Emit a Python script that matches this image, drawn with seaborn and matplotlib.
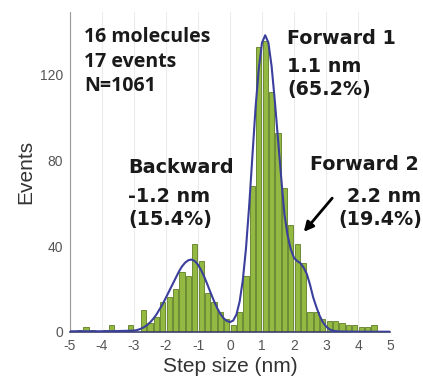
import numpy as np
import matplotlib.pyplot as plt
import seaborn as sns

# histogram: 0.2 nm bins from -5 to 5 (bin centres)
bin_centers = [-4.9, -4.7, -4.5, -4.3, -4.1, -3.9, -3.7, -3.5, -3.3, -3.1,
               -2.9, -2.7, -2.5, -2.3, -2.1, -1.9, -1.7, -1.5, -1.3, -1.1,
               -0.9, -0.7, -0.5, -0.3, -0.1, 0.1, 0.3, 0.5, 0.7, 0.9,
               1.1, 1.3, 1.5, 1.7, 1.9, 2.1, 2.3, 2.5, 2.7, 2.9,
               3.1, 3.3, 3.5, 3.7, 3.9, 4.1, 4.3, 4.5, 4.7, 4.9]
counts = [0, 1, 2, 1, 0, 1, 3, 1, 1, 3,
          0, 10, 4, 7, 14, 16, 20, 28, 26, 41,
          33, 18, 14, 9, 6, 3, 9, 26, 68, 133,
          136, 112, 93, 67, 50, 41, 32, 9, 9, 6,
          5, 5, 4, 3, 3, 2, 2, 3, 0, 0]
bin_edges = [-5.0, -4.8, -4.6, -4.4, -4.2, -4.0, -3.8, -3.6, -3.4, -3.2,
             -3.0, -2.8, -2.6, -2.4, -2.2, -2.0, -1.8, -1.6, -1.4, -1.2,
             -1.0, -0.8, -0.6, -0.4, -0.2, 0.0, 0.2, 0.4, 0.6, 0.8,
             1.0, 1.2, 1.4, 1.6, 1.8, 2.0, 2.2, 2.4, 2.6, 2.8,
             3.0, 3.2, 3.4, 3.6, 3.8, 4.0, 4.2, 4.4, 4.6, 4.8, 5.0]

# fitted curve
fit_x = [-5.0, -4.0, -3.5, -3.0, -2.9, -2.8, -2.7, -2.6, -2.5, -2.4, -2.3, -2.2, -2.1,
         -2.0, -1.9, -1.8, -1.7, -1.6, -1.5, -1.4, -1.3, -1.2, -1.1, -1.0, -0.9,
         -0.8, -0.7, -0.6, -0.5, -0.4, -0.3, -0.2, -0.1, 0.0, 0.1, 0.2, 0.3, 0.4,
         0.5, 0.6, 0.7, 0.8, 0.9, 1.0, 1.1, 1.2, 1.3, 1.4, 1.5, 1.6, 1.7, 1.8,
         1.9, 2.0, 2.1, 2.2, 2.3, 2.4, 2.5, 2.6, 2.7, 2.8, 2.9, 3.0, 3.1, 3.2,
         3.4, 4.0, 5.0]
fit_y = [0.2, 0.2, 0.3, 0.5, 0.8, 1.3, 2.0, 3.0, 4.3, 6.0, 8.0, 10.5, 13.0,
         16.0, 19.0, 22.0, 25.0, 28.0, 30.5, 32.3, 33.4, 33.7, 33.0, 31.3, 28.7,
         25.5, 21.8, 18.0, 14.3, 11.0, 8.3, 6.3, 5.0, 4.5, 5.2, 8.0, 14.0, 24.0,
         39.0, 59.0, 82.0, 105.0, 123.0, 135.0, 138.5, 135.0, 124.0, 108.0, 90.0, 72.0, 55.0, 45.0,
         38.5, 34.5, 33.0, 32.0, 30.0, 27.0, 22.0, 16.0, 11.5, 7.5, 4.5, 2.5, 1.2, 0.5,
         0.1, 0.0, 0.0]

sns.set_style("white")
plt.rcParams['font.family'] = ['Liberation Sans', 'DejaVu Sans']
plt.rcParams['axes.unicode_minus'] = False

W, H = 423, 378
fig = plt.figure(figsize=(W / 100, H / 100), dpi=100)
ax = fig.add_axes([70 / W, 1 - 331.7 / H, 320 / W, (331.7 - 11.7) / H])

for xv in range(-5, 6):
    ax.axvline(xv, color='#ececec', lw=0.8, zorder=0)

sns.histplot(x=bin_centers, weights=counts, bins=bin_edges, shrink=0.84,
             color='#93b942', edgecolor='#5e7d22', linewidth=0.6, alpha=1,
             ax=ax, zorder=2)
sns.lineplot(x=fit_x, y=fit_y, color='#3b3f9c', lw=1.5, ax=ax, zorder=3)

ax.set_xlim(-5, 5)
ax.set_ylim(0, 149.5)
ax.set_xticks(range(-5, 6))
ax.set_yticks([0, 40, 80, 120])
ax.tick_params(axis='both', labelsize=10, colors='#555555', length=3, width=0.8,
               direction='out', pad=2)
for side in ['top', 'right']:
    ax.spines[side].set_visible(False)
ax.spines['left'].set_color('#9a9a9a')
ax.spines['bottom'].set_color('#3b3f6c')
ax.spines['bottom'].set_linewidth(1.2)
ax.set_xlabel('Step size (nm)', fontsize=15, color='#333333', labelpad=3)
ax.set_ylabel('Events', fontsize=15, color='#333333', labelpad=3)

# annotations (figure pixel positions)
def put(lines, x, ys, size=13.8, family='DejaVu Sans'):
    for t, y in zip(lines, ys):
        fig.text(x / W, 1 - y / H, t, ha='left', va='center', fontsize=size,
                 fontweight='bold', color='#1a1a1a', family=family)

put(['16 molecules', '17 events', 'N=1061'], 84, [37, 62, 86], 14, 'Open Sans')
put(['Forward 1', '1.1 nm', '(65.2%)'], 287, [38, 66, 90])
put(['Backward', '-1.2 nm', '(15.4%)'], 128, [167, 196, 219])
put(['Forward 2'], 310, [165])
put(['2.2 nm'], 347, [196])
put(['(19.4%)'], 338, [219])

ax.annotate('', xy=(302, H - 234), xytext=(334, H - 196),
            xycoords='figure pixels', textcoords='figure pixels',
            arrowprops=dict(arrowstyle='-|>', color='black', lw=2,
                            mutation_scale=14))

fig.savefig('out.png', dpi=100)
